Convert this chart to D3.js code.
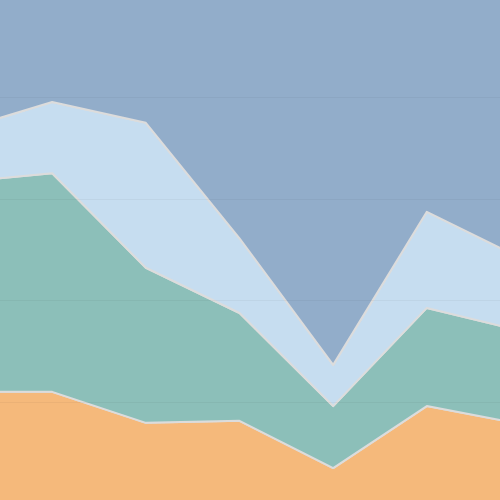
<html>
<head>
  <meta charset="utf-8">
  <script src="https://d3js.org/d3.v7.min.js"></script>
  <style>
    html, body { margin:0; padding:0; overflow:hidden; background:#fff; }
    svg { display:block; }
  </style>
</head>
<body>
  <svg width="500" height="500"></svg>
  <script>
    const categories = ["A", "B", "C", "D", "E", "F", "G"];
    const seriesNames = ["s1", "s2", "s3", "s4"];
    const s1 = [22.0, 22.0, 15.9, 16.3, 7.0, 19.2, 15.7];
    const s2 = [41.2, 43.0, 30.5, 21.2, 12.2, 19.3, 18.3];
    const s3 = [10.2, 14.0, 28.5, 14.7, 8.1, 18.9, 14.3];
    const s4 = [26.6, 21.0, 25.1, 47.8, 72.7, 42.6, 51.7];
    const gridTicks = [0.2, 0.4, 0.6, 0.8];
    const colors = ["#f5b97b", "#8cbfb9", "#c6ddf0", "#92adca"];

    const table = categories.map((c, i) => ({
      cat: c, s1: s1[i], s2: s2[i], s3: s3[i], s4: s4[i]
    }));

    const stacked = d3.stack()
      .keys(seriesNames)
      .offset(d3.stackOffsetExpand)(table);

    const x = d3.scalePoint()
      .domain(categories)
      .range([-41.5, 520.5]);

    const y = d3.scaleLinear()
      .domain([0, 1])
      .range([503.7, -4.8]);

    const svg = d3.select("svg");

    const area = d3.area()
      .x(d => x(d.data.cat))
      .y0(d => y(d[0]))
      .y1(d => y(d[1]));

    svg.selectAll("path.layer")
      .data(stacked)
      .enter()
      .append("path")
      .attr("class", "layer")
      .attr("d", area)
      .attr("fill", (d, i) => colors[i])
      .attr("stroke", "#dcdcdc")
      .attr("stroke-width", 2)
      .attr("stroke-linejoin", "round");

    // faint grid lines over the areas
    svg.selectAll("line.grid")
      .data(gridTicks)
      .enter()
      .append("line")
      .attr("class", "grid")
      .attr("x1", 0)
      .attr("x2", 500)
      .attr("y1", d => Math.round(y(d)) + 0.5)
      .attr("y2", d => Math.round(y(d)) + 0.5)
      .attr("stroke", "#000")
      .attr("stroke-opacity", 0.04);
  </script>
</body>
</html>
